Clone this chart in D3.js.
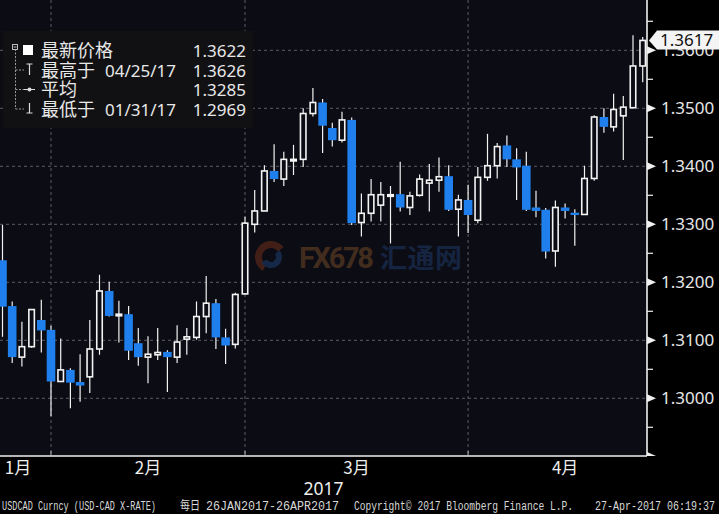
<!DOCTYPE html>
<html><head><meta charset="utf-8">
<script src="https://cdn.jsdelivr.net/npm/d3@7"></script>
<style>
html,body{margin:0;padding:0;background:#000;}
svg{display:block;}
</style></head><body>
<svg id="chart" width="719" height="514"></svg>
<script>
// ---------- data ----------
const dates = [
 "2017-01-24","2017-01-25","2017-01-26","2017-01-27","2017-01-30","2017-01-31",
 "2017-02-01","2017-02-02","2017-02-03","2017-02-06","2017-02-07","2017-02-08","2017-02-09","2017-02-10",
 "2017-02-13","2017-02-14","2017-02-15","2017-02-16","2017-02-17","2017-02-20","2017-02-21","2017-02-22",
 "2017-02-23","2017-02-24","2017-02-27","2017-02-28",
 "2017-03-01","2017-03-02","2017-03-03","2017-03-06","2017-03-07","2017-03-08","2017-03-09","2017-03-10",
 "2017-03-13","2017-03-14","2017-03-15","2017-03-16","2017-03-17","2017-03-20","2017-03-21","2017-03-22",
 "2017-03-23","2017-03-24","2017-03-27","2017-03-28","2017-03-29","2017-03-30","2017-03-31",
 "2017-04-03","2017-04-04","2017-04-05","2017-04-06","2017-04-07","2017-04-10","2017-04-11","2017-04-12",
 "2017-04-13","2017-04-14","2017-04-17","2017-04-18","2017-04-19","2017-04-20","2017-04-21","2017-04-24",
 "2017-04-25","2017-04-26"];
const opens = [
 1.3238,1.3159,1.3071,1.3089,1.3135,1.3118,
 1.3029,1.3049,1.3028,1.3037,1.3085,1.3185,1.3143,1.3145,
 1.3095,1.3071,1.3075,1.3080,1.3071,1.3102,1.3105,1.3141,
 1.3164,1.3105,1.3093,1.3180,
 1.3300,1.3323,1.3392,1.3378,1.3410,1.3412,1.3491,1.3510,
 1.3466,1.3445,1.3480,1.3303,1.3319,1.3333,1.3350,1.3352,
 1.3329,1.3350,1.3371,1.3376,1.3383,1.3326,1.3342,
 1.3307,1.3381,1.3401,1.3436,1.3412,1.3401,1.3329,1.3325,
 1.3254,1.3329,1.3320,1.3317,1.3379,1.3485,1.3468,1.3487,
 1.3501,1.3573];
const highs = [
 1.3299,1.3167,1.3132,1.3154,1.3170,1.3125,
 1.3103,1.3052,1.3076,1.3135,1.3213,1.3201,1.3168,1.3159,
 1.3121,1.3107,1.3121,1.3083,1.3126,1.3121,1.3167,1.3211,
 1.3171,1.3120,1.3182,1.3313,
 1.3359,1.3402,1.3438,1.3425,1.3437,1.3500,1.3535,1.3516,
 1.3475,1.3494,1.3484,1.3353,1.3378,1.3373,1.3366,1.3408,
 1.3356,1.3386,1.3404,1.3415,1.3402,1.3351,1.3368,
 1.3399,1.3456,1.3440,1.3453,1.3431,1.3425,1.3358,1.3328,
 1.3341,1.3336,1.3326,1.3401,1.3488,1.3500,1.3525,1.3521,
 1.3626,1.3623];
const lows = [
 1.3106,1.3061,1.3055,1.3087,1.3079,1.2969,
 1.3029,1.2983,1.2994,1.3009,1.3075,1.3141,1.3096,1.3066,
 1.3056,1.3026,1.3066,1.3011,1.3061,1.3075,1.3101,1.3112,
 1.3085,1.3059,1.3086,1.3179,
 1.3286,1.3323,1.3373,1.3366,1.3385,1.3399,1.3486,1.3423,
 1.3434,1.3441,1.3299,1.3279,1.3305,1.3305,1.3267,1.3322,
 1.3316,1.3348,1.3322,1.3356,1.3323,1.3279,1.3285,
 1.3302,1.3375,1.3379,1.3399,1.3342,1.3323,1.3312,1.3241,
 1.3227,1.3310,1.3263,1.3316,1.3375,1.3458,1.3460,1.3411,
 1.3500,1.3545];
const closes = [
 1.3158,1.3071,1.3089,1.3153,1.3117,1.3029,
 1.3049,1.3027,1.3022,1.3085,1.3185,1.3142,1.3145,1.3082,
 1.3071,1.3076,1.3079,1.3071,1.3097,1.3106,1.3141,1.3164,
 1.3105,1.3091,1.3179,1.3302,
 1.3323,1.3392,1.3378,1.3412,1.3412,1.3491,1.3510,1.3470,
 1.3445,1.3480,1.3302,1.3319,1.3351,1.3351,1.3351,1.3329,
 1.3349,1.3378,1.3376,1.3382,1.3325,1.3342,1.3316,
 1.3381,1.3401,1.3434,1.3412,1.3398,1.3325,1.3323,1.3253,
 1.3329,1.3323,1.3316,1.3379,1.3485,1.3468,1.3498,1.3502,
 1.3573,1.3617];

const yTickValues = [1.30,1.31,1.32,1.33,1.34,1.35,1.36];
const yTickLabels = ["1.3000","1.3100","1.3200","1.3300","1.3400","1.3500","1.3600"];
const monthLabels = ["1月","2月","3月","4月"];
const monthEnds = ["2017-01-31","2017-02-28","2017-03-31"];
const monthTradingDays = [22,20,23,20];
const yearLabel = "2017";
const lastPrice = 1.3617;
const lastPriceLabel = "1.3617";

const legendNames = ["最新价格","最高于","平均","最低于"];
const legendDates = ["","04/25/17","","01/31/17"];
const legendValues = ["1.3622","1.3626","1.3285","1.2969"];

const footerTexts = ["USDCAD Curncy (USD-CAD X-RATE)","每日","26JAN2017-26APR2017",
  "Copyright\u00A9 2017 Bloomberg Finance L.P.","27-Apr-2017 06:19:37"];

// ---------- layout ----------
const W = 719, H = 514;
const plotR = 647, plotB = 456;
const BLUE = "#1f7fec", PLOTBG = "#0c0c14", GRID = "#5c5c66";

const svg = d3.select("#chart");
const data = dates.map((d,i)=>({d, o:opens[i], h:highs[i], l:lows[i], c:closes[i]}));

const x = d3.scaleBand().domain(dates).range([-2.35, -2.35 + dates.length*9.7]).padding(0);
const xc = d => x(d) + x.bandwidth()/2;
const y = d3.scaleLinear().domain([1.29, 1.37]).range([456.3, -7.7]);

svg.append("rect").attr("width",W).attr("height",H).attr("fill","#000");
svg.append("rect").attr("x",0).attr("y",0).attr("width",plotR).attr("height",plotB).attr("fill",PLOTBG);

svg.append("defs").append("clipPath").attr("id","clip")
  .append("rect").attr("x",0).attr("y",0).attr("width",plotR).attr("height",plotB);

// gridlines
const grid = svg.append("g");
grid.selectAll("line.h").data(yTickValues).join("line")
  .attr("x1",0).attr("x2",plotR).attr("y1",d=>y(d)).attr("y2",d=>y(d))
  .attr("stroke",GRID).attr("stroke-width",1).attr("stroke-dasharray","3,3");
grid.selectAll("line.v").data(monthEnds).join("line")
  .attr("x1",d=>xc(d)).attr("x2",d=>xc(d)).attr("y1",0).attr("y2",plotB)
  .attr("stroke",GRID).attr("stroke-width",1).attr("stroke-dasharray","3,3");

// watermark
const wm = svg.append("g").attr("opacity",0.42);
const arc = d3.arc();
wm.append("path").attr("transform","translate(271,257)")
  .attr("d",arc({innerRadius:9,outerRadius:16,startAngle:-2.6,endAngle:0.9})).attr("fill","#8a3a1c");
wm.append("path").attr("transform","translate(271,257)")
  .attr("d",arc({innerRadius:5,outerRadius:11,startAngle:0.9,endAngle:4.2})).attr("fill","#25508f");
wm.append("text").attr("x",299).attr("y",268).attr("font-family","Roboto, 'Noto Sans', sans-serif")
  .attr("font-weight","bold").attr("font-size",29).attr("fill","#8c5a2a").attr("textLength",75).text("FX678");
wm.append("text").attr("x",380).attr("y",268).attr("font-family","'Noto Sans CJK SC', sans-serif")
  .attr("font-weight","bold").attr("font-size",27).attr("fill","#23467e").attr("textLength",82).text("汇通网");

// candles
const cg = svg.append("g").attr("clip-path","url(#clip)");
cg.selectAll("line.wick").data(data).join("line")
  .attr("x1",d=>xc(d.d)).attr("x2",d=>xc(d.d))
  .attr("y1",d=>y(d.h)).attr("y2",d=>y(d.l))
  .attr("stroke","#f2f2f2").attr("stroke-width",1.2);
cg.selectAll("rect.body").data(data).join("rect")
  .attr("x",d=> d.c>=d.o ? xc(d.d)-2.75 : xc(d.d)-4.3)
  .attr("width",d=> d.c>=d.o ? 5.5 : 8.6)
  .attr("y",d=> y(Math.max(d.o,d.c)))
  .attr("height",d=> Math.max(Math.abs(y(d.o)-y(d.c)), d.c>=d.o ? 1.6 : 2))
  .attr("fill",d=> d.c>=d.o ? PLOTBG : BLUE)
  .attr("stroke",d=> d.c>=d.o ? "#f4f4f4" : "none")
  .attr("stroke-width",1.6);

// right axis
const ax = svg.append("g");
ax.append("line").attr("x1",plotR).attr("x2",plotR).attr("y1",0).attr("y2",plotB)
  .attr("stroke","#f0f0f0").attr("stroke-width",1.6);
const minor = yTickValues.map(v=>v-0.005).concat([1.365]);
ax.selectAll("line.minor").data(minor).join("line")
  .attr("x1",plotR).attr("x2",plotR+6).attr("y1",d=>y(d)).attr("y2",d=>y(d))
  .attr("stroke","#f0f0f0").attr("stroke-width",1.2);
ax.selectAll("path.tri").data(yTickValues).join("path")
  .attr("d",d=>`M${plotR},${y(d)-4}L${plotR+9},${y(d)}L${plotR},${y(d)+4}Z`).attr("fill","#f0f0f0");
ax.selectAll("text.yl").data(yTickValues).join("text")
  .attr("x",661).attr("y",d=>y(d)+6)
  .attr("font-family","'Noto Sans', sans-serif").attr("font-size",17).attr("fill","#e6e6e6")
  .text((d,i)=>yTickLabels[i]);

// last price box
const ly = y(lastPrice);
svg.append("path")
  .attr("d",`M649,${ly}L657,${ly-10}L719,${ly-10}L719,${ly+9}L657,${ly+9}Z`)
  .attr("fill","#f4f4f4");
svg.append("text").attr("x",660).attr("y",ly+6)
  .attr("font-family","'Noto Sans', sans-serif").attr("font-size",17).attr("fill","#111")
  .text(lastPriceLabel);

// bottom axis
const bx = svg.append("g");
bx.append("line").attr("x1",0).attr("x2",plotR).attr("y1",plotB).attr("y2",plotB)
  .attr("stroke","#f0f0f0").attr("stroke-width",1.6);
bx.append("path").attr("d",`M${plotR},${plotB-4}L${plotR+9},${plotB}L${plotR},${plotB}Z`).attr("fill","#f0f0f0");
bx.selectAll("line.mt").data(monthEnds).join("line")
  .attr("x1",d=>xc(d)).attr("x2",d=>xc(d)).attr("y1",plotB-5).attr("y2",plotB)
  .attr("stroke","#bbb").attr("stroke-width",1);
const step = x.step();
const bounds = monthEnds.map(d=>xc(d));
const monthCentres = monthLabels.map((m,i)=>{
  const right = i < bounds.length ? bounds[i] : bounds[i-1] + monthTradingDays[i]*step;
  const left = i > 0 ? bounds[i-1] : bounds[0] - monthTradingDays[0]*step;
  return Math.max(18, (left+right)/2);
});
bx.selectAll("text.ml").data(monthLabels).join("text")
  .attr("x",(d,i)=>monthCentres[i]).attr("y",474).attr("text-anchor","middle")
  .attr("font-family","'Noto Sans CJK SC', sans-serif").attr("font-size",17).attr("fill","#eeeeee")
  .text(d=>d);
bx.append("text").attr("x",(monthCentres[0]+monthCentres[3])/2 + 32).attr("y",495).attr("text-anchor","middle")
  .attr("font-family","'Noto Sans', sans-serif").attr("font-size",17.5).attr("fill","#eeeeee")
  .text(yearLabel);

// legend
const lg = svg.append("g");
lg.append("rect").attr("x",3).attr("y",31).attr("width",250).attr("height",97).attr("fill","#111113");
const rowY = [50.5, 70, 89.5, 109];
lg.append("line").attr("x1",15.5).attr("x2",15.5).attr("y1",49).attr("y2",rowY[3])
  .attr("stroke","#9a9a9a").attr("stroke-width",1).attr("stroke-dasharray","2,1.5");
lg.selectAll("line.stub").data(rowY.slice(1)).join("line")
  .attr("x1",15.5).attr("x2",24).attr("y1",d=>d).attr("y2",d=>d)
  .attr("stroke","#9a9a9a").attr("stroke-width",1).attr("stroke-dasharray","2,1.5");
lg.append("rect").attr("x",12.5).attr("y",44.5).attr("width",5).attr("height",5)
  .attr("fill","#111113").attr("stroke","#bbb").attr("stroke-width",1);
lg.append("line").attr("x1",13.5).attr("x2",16.5).attr("y1",47).attr("y2",47).attr("stroke","#bbb");
lg.append("rect").attr("x",23).attr("y",45).attr("width",10).attr("height",10).attr("fill","#fff");
lg.append("path").attr("d",`M26.5,${rowY[1]-6}H32.5M29.5,${rowY[1]-6}V${rowY[1]+5}`)
  .attr("stroke","#ddd").attr("stroke-width",1.2).attr("fill","none");
lg.append("line").attr("x1",24).attr("x2",35).attr("y1",rowY[2]).attr("y2",rowY[2]).attr("stroke","#ddd").attr("stroke-width",1);
lg.append("circle").attr("cx",29.5).attr("cy",rowY[2]).attr("r",2).attr("fill","#ddd");
lg.append("path").attr("d",`M29.5,${rowY[3]-6}V${rowY[3]+4}M26.5,${rowY[3]+4}H32.5`)
  .attr("stroke","#ddd").attr("stroke-width",1.2).attr("fill","none");

lg.selectAll("text.ln").data(legendNames).join("text")
  .attr("x",41).attr("y",(d,i)=>rowY[i]+6.5)
  .attr("font-family","'Noto Sans CJK SC', sans-serif").attr("font-size",18).attr("fill","#e8e8e8")
  .text(d=>d);
lg.selectAll("text.ld").data(legendDates).join("text")
  .attr("x",105).attr("y",(d,i)=>rowY[i]+6.5)
  .attr("font-family","'Noto Sans', sans-serif").attr("font-size",17).attr("fill","#e8e8e8")
  .text(d=>d);
lg.selectAll("text.lv").data(legendValues).join("text")
  .attr("x",246).attr("y",(d,i)=>rowY[i]+6.5).attr("text-anchor","end")
  .attr("font-family","'Noto Sans', sans-serif").attr("font-size",17).attr("fill","#e8e8e8")
  .text(d=>d);

// footer
const fx = [2,180,206,354,595];
const fw = [154,20,133,219,120];
svg.selectAll("text.ft").data(footerTexts).join("text")
  .attr("x",(d,i)=>fx[i]).attr("y",510)
  .attr("font-family",(d,i)=> i===1 ? "'Noto Sans CJK SC', sans-serif" : "'Liberation Mono', monospace")
  .attr("font-size",12.5).attr("fill","#d8d8d8")
  .attr("textLength",(d,i)=>fw[i]).attr("lengthAdjust","spacingAndGlyphs")
  .text(d=>d);
</script>
</body></html>
